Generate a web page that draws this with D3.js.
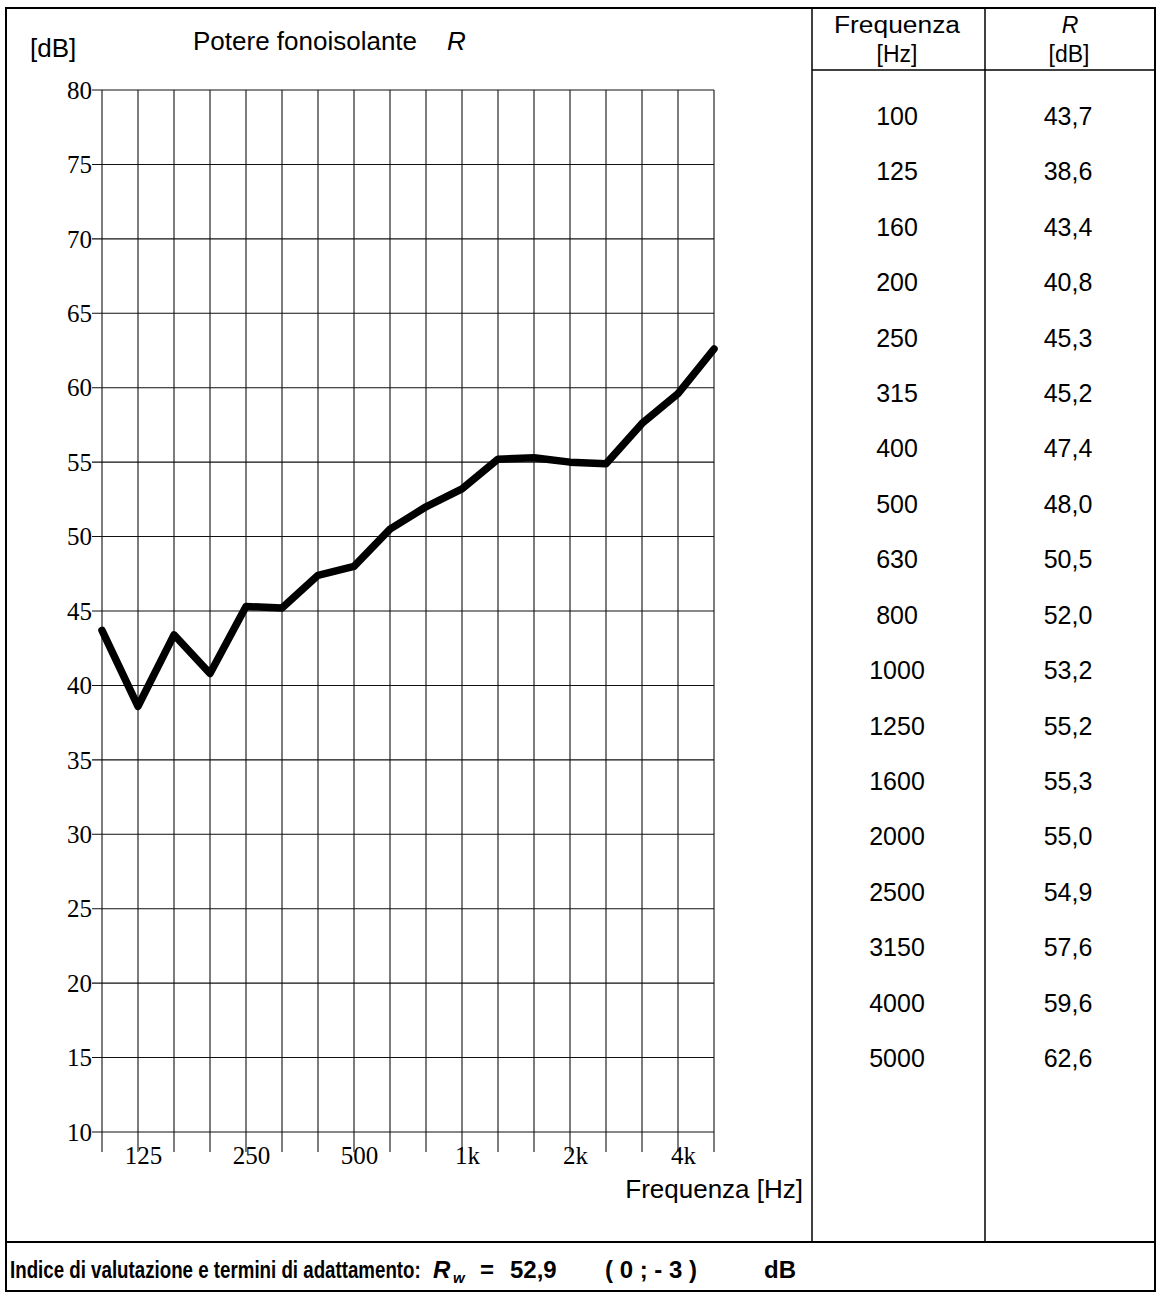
<!DOCTYPE html>
<html>
<head>
<meta charset="utf-8">
<script src="https://cdn.jsdelivr.net/npm/d3@7"></script>
<style>
    body { margin: 0; background: #fff; }
    svg { display: block; }
    text { fill: #000; }
</style>
</head>
<body>
<svg width="1160" height="1297"></svg>
<script>
// Frequencies of the 1/3 octave bands [Hz]
const frequencies = [100, 125, 160, 200, 250, 315, 400, 500, 630, 800,
    1000, 1250, 1600, 2000, 2500, 3150, 4000, 5000];
// Sound reduction index R [dB]
const rValues = [43.7, 38.6, 43.4, 40.8, 45.3, 45.2, 47.4, 48.0, 50.5, 52.0,
    53.2, 55.2, 55.3, 55.0, 54.9, 57.6, 59.6, 62.6];
// Tick labels shown under the x axis
const xTickLabels = { 125: '125', 250: '250', 500: '500', 1000: '1k', 2000: '2k', 4000: '4k' };
const yTicks = [10, 15, 20, 25, 30, 35, 40, 45, 50, 55, 60, 65, 70, 75, 80];
const rw = '52,9';
const adaptation = '( 0 ; - 3 )';

class Report {
    constructor() {
        this.svg = d3.select('svg');
        this.sans = 'Liberation Sans, Arial, sans-serif';
        this.serif = 'Liberation Serif, Times New Roman, serif';
        this.plot = { left: 102, right: 714, top: 90, bottom: 1132 };
        this.table = { left: 812, mid: 985, right: 1155, header: 70 };
        this.frame = { left: 6, top: 8, right: 1155, bottom: 1291, footer: 1242 };
    }

    draw = () => {
        this.setScales();
        this.drawGrid();
        this.drawAxes();
        this.drawLine();
        this.drawTitles();
        this.drawTable();
        this.drawFrame();
        this.drawFooter();
    }

    setScales = () => {
        // bands are equally spaced, so a point scale on the band list
        this.xScale = d3.scalePoint().domain(frequencies).range([this.plot.left, this.plot.right]);
        this.yScale = d3.scaleLinear().domain([10, 80]).range([this.plot.bottom, this.plot.top]);
    }

    drawGrid = () => {
        const g = this.svg.append('g').attr('stroke', '#111').attr('stroke-width', 1.1);
        g.selectAll('line.v').data(frequencies).join('line')
            .attr('class', 'v')
            .attr('x1', d => this.xScale(d)).attr('x2', d => this.xScale(d))
            .attr('y1', this.plot.top).attr('y2', this.plot.bottom + 20);
        g.selectAll('line.h').data(yTicks).join('line')
            .attr('class', 'h')
            .attr('x1', this.plot.left - 10).attr('x2', this.plot.right)
            .attr('y1', d => this.yScale(d)).attr('y2', d => this.yScale(d));
    }

    drawAxes = () => {
        // Y axis labels
        const yAxis = d3.axisLeft(this.yScale).tickValues(yTicks).tickSize(0).tickPadding(0);
        const ya = this.svg.append('g')
            .attr('transform', `translate(${this.plot.left - 10},0)`)
            .call(yAxis);
        ya.select('.domain').remove();
        ya.selectAll('text')
            .attr('font-family', this.serif).attr('font-size', 25).attr('fill', '#000')
            .attr('dy', '0.33em');

        // X axis labels
        const xAxis = d3.axisBottom(this.xScale)
            .tickValues(Object.keys(xTickLabels).map(Number))
            .tickFormat(d => xTickLabels[d])
            .tickSize(0).tickPadding(0);
        const xa = this.svg.append('g')
            .attr('transform', `translate(5,${this.plot.bottom + 32})`)
            .call(xAxis);
        xa.select('.domain').remove();
        xa.selectAll('text')
            .attr('font-family', this.serif).attr('font-size', 25).attr('fill', '#000')
            .attr('dy', '0');
    }

    drawLine = () => {
        const line = d3.line()
            .x((d, i) => this.xScale(frequencies[i]))
            .y(d => this.yScale(d));
        this.svg.append('path')
            .datum(rValues)
            .attr('d', line)
            .attr('fill', 'none')
            .attr('stroke', '#000')
            .attr('stroke-width', 7.5)
            .attr('stroke-linejoin', 'round')
            .attr('stroke-linecap', 'round');
    }

    drawTitles = () => {
        const t = this.svg.append('text')
            .attr('x', 193).attr('y', 50)
            .attr('font-family', this.sans).attr('font-size', 26);
        t.append('tspan').text('Potere fonoisolante');
        t.append('tspan').attr('x', 447).attr('font-style', 'italic').text('R');

        this.svg.append('text')
            .attr('x', 30).attr('y', 57)
            .attr('font-family', this.sans).attr('font-size', 26)
            .text('[dB]');

        this.svg.append('text')
            .attr('x', 803).attr('y', 1198)
            .attr('text-anchor', 'end')
            .attr('font-family', this.sans).attr('font-size', 26)
            .text('Frequenza [Hz]');
    }

    drawTable = () => {
        const c1 = 897, c2 = 1068;
        const head = this.svg.append('g')
            .attr('font-family', this.sans).attr('font-size', 23)
            .attr('text-anchor', 'middle');
        head.append('text').attr('x', c1).attr('y', 33)
            .attr('textLength', 126).attr('lengthAdjust', 'spacingAndGlyphs')
            .text('Frequenza');
        head.append('text').attr('x', c1).attr('y', 62).text('[Hz]');
        head.append('text').attr('x', c2 + 2).attr('y', 33).attr('font-style', 'italic').text('R');
        head.append('text').attr('x', c2 + 1).attr('y', 62).text('[dB]');

        const rowY = d3.scalePoint().domain(frequencies).range([116, 1058]);
        const rows = this.svg.append('g')
            .attr('font-family', this.sans).attr('font-size', 25)
            .attr('text-anchor', 'middle');
        rows.selectAll('text.f').data(frequencies).join('text')
            .attr('class', 'f')
            .attr('x', c1).attr('y', d => rowY(d) + 9)
            .text(d => d);
        rows.selectAll('text.r').data(rValues).join('text')
            .attr('class', 'r')
            .attr('x', c2).attr('y', (d, i) => rowY(frequencies[i]) + 9)
            .text(d => d.toFixed(1).replace('.', ','));
    }

    drawFrame = () => {
        const f = this.frame, tb = this.table;
        const g = this.svg.append('g').attr('stroke', '#000').attr('fill', 'none');
        g.append('rect')
            .attr('x', f.left).attr('y', f.top)
            .attr('width', f.right - f.left).attr('height', f.bottom - f.top)
            .attr('stroke-width', 2);
        g.append('line').attr('x1', f.left).attr('x2', f.right)
            .attr('y1', f.footer).attr('y2', f.footer).attr('stroke-width', 2);
        g.append('line').attr('x1', tb.left).attr('x2', tb.left)
            .attr('y1', f.top).attr('y2', f.footer).attr('stroke-width', 1.5);
        g.append('line').attr('x1', tb.mid).attr('x2', tb.mid)
            .attr('y1', f.top).attr('y2', f.footer).attr('stroke-width', 1.5);
        g.append('line').attr('x1', tb.left).attr('x2', tb.right)
            .attr('y1', tb.header).attr('y2', tb.header).attr('stroke-width', 1.5);
    }

    drawFooter = () => {
        // the footer in the scan is a narrow bold face: squeeze the long label horizontally
        const g = this.svg.append('g')
            .attr('font-family', this.sans).attr('font-size', 24)
            .attr('font-weight', 'bold');
        const y = 1278;
        g.append('text')
            .attr('transform', `translate(10,${y}) scale(0.78,1)`)
            .text('Indice di valutazione e termini di adattamento:');
        g.append('text').attr('x', 433).attr('y', y).attr('font-style', 'italic').text('R');
        g.append('text').attr('x', 453).attr('y', y + 5).attr('font-style', 'italic')
            .attr('font-size', 15).text('w');
        g.append('text').attr('x', 480).attr('y', y).text('=');
        g.append('text').attr('x', 510).attr('y', y).text(rw);
        g.append('text').attr('x', 605).attr('y', y)
            .attr('xml:space', 'preserve').text(adaptation);
        g.append('text').attr('x', 764).attr('y', y).text('dB');
    }
}

new Report().draw();
</script>
</body>
</html>
